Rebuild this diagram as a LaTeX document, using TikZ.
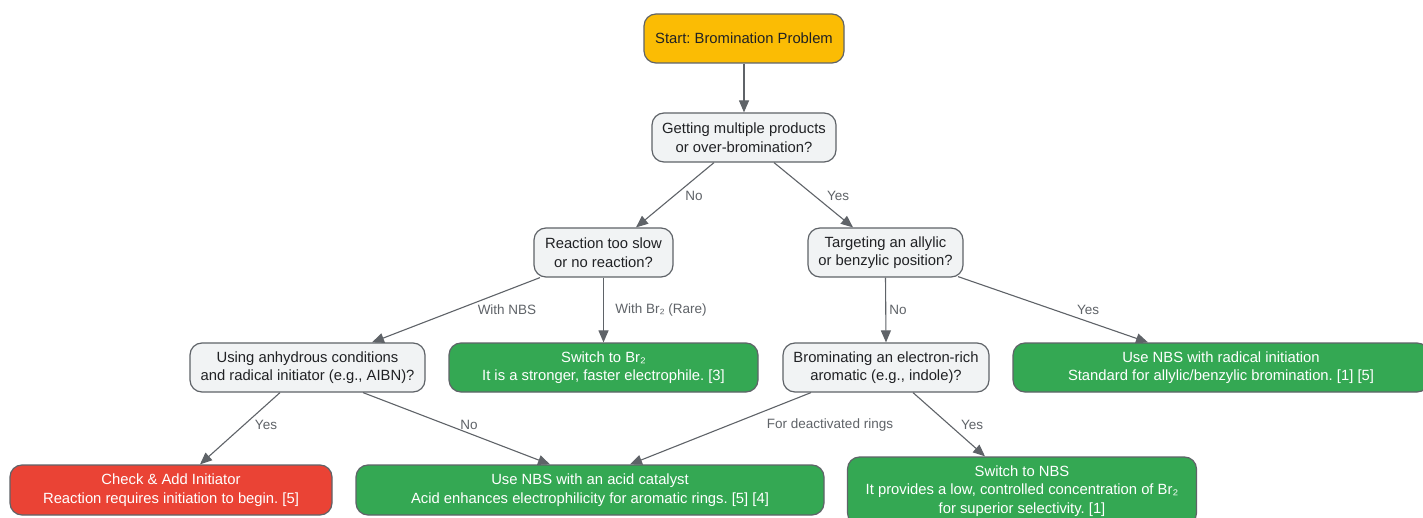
\documentclass[tikz,border=0pt]{standalone}
\usepackage{fontspec}
\setmainfont{Liberation Sans}
\usetikzlibrary{arrows.meta}
\frenchspacing
\definecolor{cyel}{HTML}{FBBC04}
\definecolor{cq}{HTML}{F1F3F4}
\definecolor{cgrn}{HTML}{34A853}
\definecolor{cred}{HTML}{EA4335}
\definecolor{cbord}{HTML}{5F6368}
\definecolor{ctxt}{HTML}{202124}
\definecolor{clbl}{HTML}{5F6368}
\tikzset{
  box/.style={draw=cbord, line width=1.2pt, rounded corners=12pt, align=center,
    inner sep=0pt, font=\fontsize{14.8}{18.5}\selectfont},
  qbox/.style={box, fill=cq, text=ctxt},
  startbox/.style={box, fill=cyel, text=ctxt},
  gbox/.style={box, fill=cgrn, text=white},
  rbox/.style={box, fill=cred, text=white},
  conn/.style={draw=cbord, line width=1.1pt, -{Triangle[length=12pt,width=10pt]}},
  lbl/.style={text=clbl, font=\fontsize{13.5}{15}\selectfont, inner sep=0pt}
}
\begin{document}
\begin{tikzpicture}[x=1pt,y=-1pt]
\useasboundingbox (0,0) rectangle (1423,518);
\fill[white] (0,0) rectangle (1423,518);
\begin{scope}
\clip (0,0) rectangle (1423,518);
\node[startbox, minimum width=200pt, minimum height=49pt] (start) at (744,38.5) {Start: Bromination Problem};
\node[qbox, minimum width=184pt, minimum height=49pt] (get) at (744,137.5) {Getting multiple products\\or over-bromination?};
\node[qbox, minimum width=139pt, minimum height=49pt] (rx) at (603.5,252.5) {Reaction too slow\\or no reaction?};
\node[qbox, minimum width=155pt, minimum height=49pt] (tgt) at (885.5,252.5) {Targeting an allylic\\or benzylic position?};
\node[qbox, minimum width=235pt, minimum height=49pt] (use) at (307.5,367.5) {Using anhydrous conditions\\and radical initiator (e.g., AIBN)?};
\node[gbox, minimum width=309pt, minimum height=49pt] (br2) at (603.5,367.5) {Switch to Br₂\\It is a stronger, faster electrophile. [3]};
\node[qbox, minimum width=206pt, minimum height=49pt] (brom) at (886,367.5) {Brominating an electron-rich\\aromatic (e.g., indole)?};
\node[gbox, minimum width=416pt, minimum height=49pt] (rad) at (1221,367.5) {Use NBS with radical initiation\\Standard for allylic/benzylic bromination. [1] [5]};
\node[rbox, minimum width=322pt, minimum height=50pt] (check) at (171,490) {Check \& Add Initiator\\Reaction requires initiation to begin. [5]};
\node[gbox, minimum width=468pt, minimum height=50pt] (acid) at (590,490) {Use NBS with an acid catalyst\\Acid enhances electrophilicity for aromatic rings. [5] [4]};
\node[gbox, minimum width=349pt, minimum height=68pt] (snbs) at (1022,491) {Switch to NBS\\It provides a low, controlled concentration of Br₂\\for superior selectivity. [1]};

\draw[conn] (start.south) -- (get.north);
\draw[conn] ([xshift=-30pt]get.south) -- ([xshift=32.5pt]rx.north);
\draw[conn] ([xshift=30pt]get.south) -- ([xshift=-32.5pt]tgt.north);
\draw[conn] ([xshift=-63.5pt]rx.south) -- ([xshift=64.5pt]use.north);
\draw[conn] (rx.south) -- (br2.north);
\draw[conn] (tgt.south) -- (brom.north);
\draw[conn] ([xshift=72.5pt,yshift=1pt]tgt.south) -- ([xshift=-73pt]rad.north);
\draw[conn] ([xshift=-27.5pt]use.south) -- ([xshift=29pt]check.north);
\draw[conn] ([xshift=55.5pt]use.south) -- ([xshift=-40pt]acid.north);
\draw[conn] ([xshift=-75pt]brom.south) -- ([xshift=40pt]acid.north);
\draw[conn] ([xshift=27pt]brom.south) -- ([xshift=-37pt]snbs.north);

\node[lbl] (l1) at (694,196) {No};
\node[lbl] (l2) at (838,196) {Yes};
\node[lbl] (l3) at (507,310) {With NBS};
\node[lbl] (l4) at (661,310) {With Br₂ (Rare)};
\node[lbl] (l5) at (898,310) {No};
\node[lbl] (l6) at (1088,310) {Yes};
\node[lbl] (l7) at (266,425) {Yes};
\node[lbl] (l8) at (469,425) {No};
\node[lbl] (l9) at (830,425) {For deactivated rings};
\node[lbl] (l10) at (972,425) {Yes};
\end{scope}
\end{tikzpicture}
\end{document}
